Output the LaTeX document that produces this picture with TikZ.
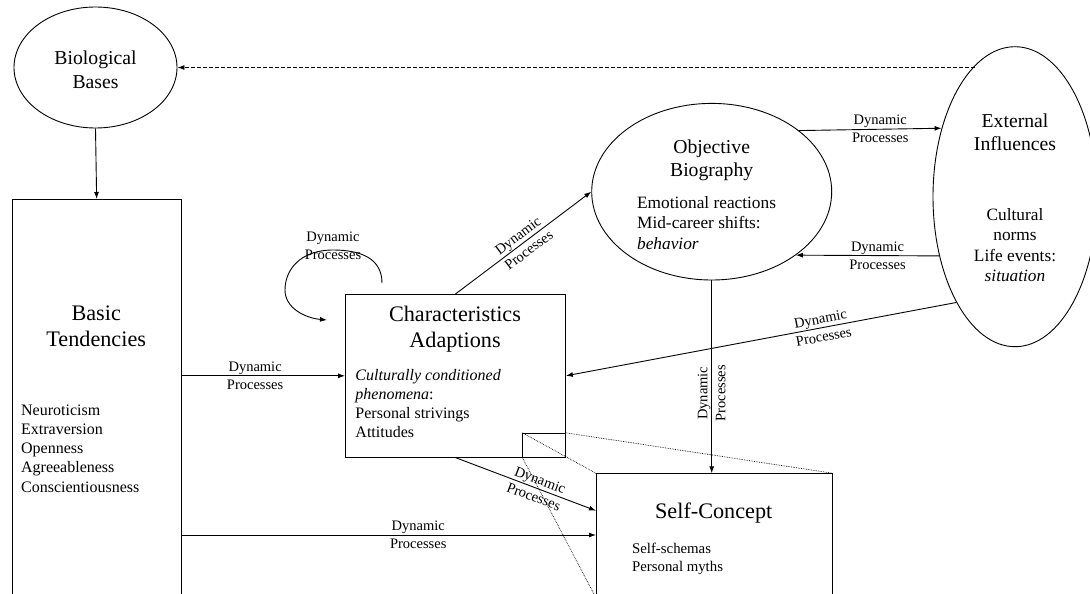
\documentclass[tikz,border=0pt]{standalone}
\usepackage{fontspec}
\setmainfont{Liberation Serif}
\usetikzlibrary{arrows.meta,shapes.geometric}

\begin{document}
\begin{tikzpicture}[x=1pt,y=-1pt,
  line width=0.9pt,
  arr/.style={-{Latex[length=7pt,width=5pt]}},
  box/.style={draw, rectangle, inner sep=0pt},
  oval/.style={draw, ellipse, inner sep=0pt},
  dp/.style={font=\fontsize{14.5}{18}\selectfont, align=center, inner sep=0pt},
  bigtitle/.style={font=\fontsize{22.2}{26.3}\selectfont, align=center, inner sep=0pt, anchor=base},
  midtitle/.style={font=\fontsize{19.7}{23.3}\selectfont, align=center, inner sep=0pt, anchor=base},
  bodytext/.style={align=left, inner sep=0pt, anchor=base west},
  zoomline/.style={densely dotted, line width=0.7pt}
]
\useasboundingbox (0,0) rectangle (1090,594);

% ---- shapes ----
\node[oval, minimum width=163pt, minimum height=121pt] (bio) at (95.5,67.5) {};
\node[box, minimum width=169pt, minimum height=398pt, anchor=north west] (basic) at (11.7,199) {};
\node[box, minimum width=220pt, minimum height=162.7pt, anchor=north west] (char) at (345,294) {};
\node[oval, minimum width=240pt, minimum height=176.6pt] (obj) at (711.7,191.7) {};
\node[oval, minimum width=164pt, minimum height=300pt] (ext) at (1015,196.7) {};
\node[box, minimum width=236pt, minimum height=123.7pt, anchor=north west] (self) at (596,473.3) {};
\node[draw, line width=0.8pt, inner sep=0pt, minimum width=42.7pt, minimum height=24pt,
      anchor=south east] (zr) at (char.south east) {};

% ---- texts (base anchor = baseline of the last line) ----
\node[midtitle] (biot) at (95.5,88.3) {Biological\\Bases};
\node[bigtitle] (basict) at (96.2,346.3) {Basic\\Tendencies};
\node[bodytext, font=\fontsize{16}{19.25}\selectfont] (basicb) at (20.7,492)
  {Neuroticism\\Extraversion\\Openness\\Agreeableness\\Conscientiousness};
\node[bigtitle] (chart) at (455,347.3) {Characteristics\\Adaptions};
\node[bodytext, font=\fontsize{16}{19.3}\selectfont] (charb) at (355,437.9)
  {\textit{Culturally conditioned}\\\textit{phenomena}:\\Personal strivings\\Attitudes};
\node[midtitle] (objt) at (711.7,176.3) {Objective\\Biography};
\node[bodytext, font=\fontsize{17.3}{20.7}\selectfont] (objb) at (636.7,249.4)
  {Emotional reactions\\Mid-career shifts:\\\textit{behavior}};
\node[midtitle] (extt) at (1015,150.3) {External\\Influences};
\node[inner sep=0pt, anchor=base, align=center, font=\fontsize{17.3}{20.6}\selectfont] (extb) at (1015,281.8)
  {Cultural\\norms\\Life events:\\\textit{situation}};
\node[bigtitle] (selft) at (713.7,518.3) {Self-Concept};
\node[bodytext, font=\fontsize{14.8}{18.7}\selectfont] (selfb) at (631.7,571.7)
  {Self-schemas\\Personal myths};

% ---- helper points on borders ----
\coordinate (bs) at ([yshift=-61.7pt]self.north west);
\coordinate (cs) at ([yshift=-37.4pt]self.north west);
\coordinate (ls) at ([shift={(37pt,11pt)}]char.north west);
\coordinate (le) at ([shift={(-18pt,-26pt)}]char.north west);

% ---- connectors ----
\draw[arr] (bio.south) -- (basic.north);
\draw[arr] (basic.east |- char.west) -- node[dp, pos=0.45] {Dynamic\\Processes} (char.west);
\draw[arr] (basic.east |- bs) -- node[dp, pos=0.571] {Dynamic\\Processes} (bs);
\draw[arr] (char.north) -- node[dp, sloped] {Dynamic\\Processes} (obj.west);
\draw[arr] (obj.35.7) -- node[dp, pos=0.57] {Dynamic\\Processes} (ext.137.8);
\draw[arr] (ext.218) -- node[dp, pos=0.43] {Dynamic\\Processes} (obj.-37.7);
\draw[arr] (ext.241.5) -- node[dp, sloped, pos=0.344] {Dynamic\\Processes} (char.east);
\draw[arr] (obj.south) -- node[dp, rotate=90, pos=0.585] {Dynamic\\Processes} (obj.south |- self.north);
\draw[arr] (char.south) -- node[dp, sloped, pos=0.58] {Dynamic\\Processes} (cs);
\draw[arr, dash pattern=on 4pt off 2pt] (bio.east -| ext.107.5) -- (bio.east);

% self-loop on the adaptations box
\draw[arr] (ls) .. controls (382,258) and (360,250) .. (333,250)
  .. controls (300,250) and (285,270) .. (285,290)
  .. controls (285,308) and (305,318) .. (le);
\node[dp, anchor=base] (looplab) at (333,259) {Dynamic\\Processes};

% magnification lines
\draw[zoomline] (zr.north west) -- (self.north west);
\draw[zoomline] (zr.north east) -- (self.north east);
\draw[zoomline] (zr.south west) -- (self.south west);
\end{tikzpicture}
\end{document}
